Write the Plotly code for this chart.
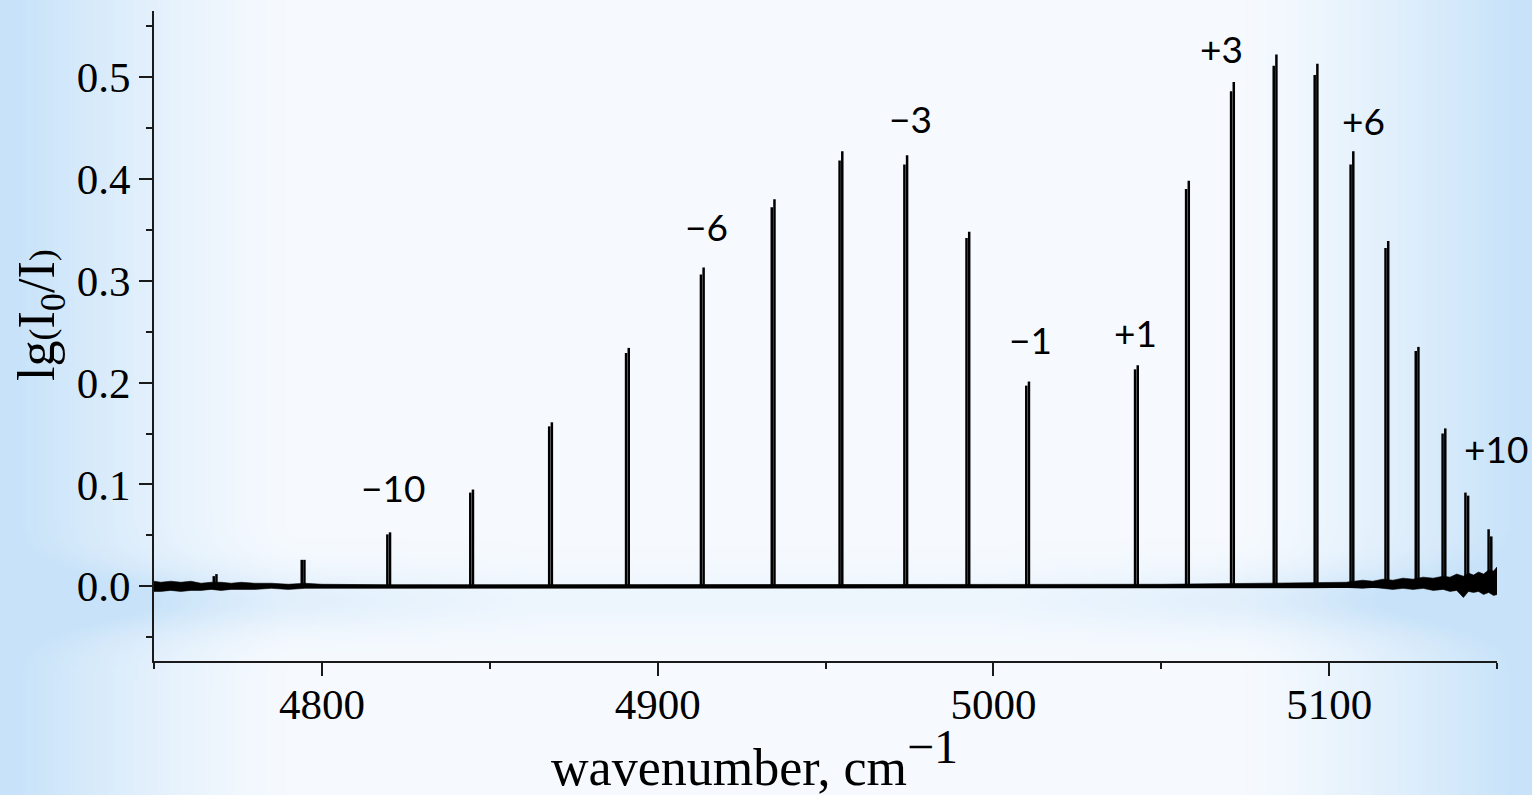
import base64, struct, zlib
import numpy as np
import plotly.graph_objects as go

# ---------------- data ----------------
# HBr 2-0 band, isotopic doublets: lower-wavenumber component (a) and higher (b)
wn_a = [4767.8, 4794.0, 4819.5, 4844.2, 4867.7, 4890.6, 4912.9, 4934.0, 4954.2, 4973.5,
        4992.0, 5009.8, 5042.2, 5057.4, 5070.8, 5083.5, 5095.7, 5106.4, 5116.8, 5125.8,
        5133.8, 5140.6, 5147.5]
wn_b = [4768.6, 4794.8, 4820.3, 4845.0, 4868.5, 4891.4, 4913.7, 4934.8, 4955.0, 4974.3,
        4992.8, 5010.6, 5043.0, 5058.2, 5071.6, 5084.3, 5096.5, 5107.2, 5117.6, 5126.6,
        5134.6, 5141.4, 5148.3]
h_a = [0.010, 0.026, 0.051, 0.092, 0.157, 0.229, 0.306, 0.372, 0.418, 0.414,
       0.342, 0.197, 0.213, 0.390, 0.486, 0.511, 0.502, 0.414, 0.332, 0.231,
       0.150, 0.092, 0.056]
h_b = [0.012, 0.026, 0.053, 0.095, 0.161, 0.234, 0.313, 0.380, 0.427, 0.423,
       0.348, 0.201, 0.217, 0.398, 0.495, 0.522, 0.513, 0.427, 0.339, 0.235,
       0.155, 0.089, 0.049]

# baseline noise envelope (upper / lower edge of the noisy baseline)
env_x = [4750, 4752, 4755, 4758, 4761, 4764, 4767, 4770, 4773, 4776, 4780, 4785, 4790,
         4795, 4800, 4820, 4850, 4900, 5000, 5050, 5080, 5095, 5105, 5110, 5113, 5116,
         5119, 5122, 5125, 5128, 5131, 5134, 5136, 5138, 5140, 5141.5, 5143, 5144.5,
         5146, 5147.5, 5149, 5150]
env_hi = [0.005, 0.004, 0.005, 0.004, 0.005, 0.003, 0.004, 0.004, 0.003, 0.004, 0.003,
          0.003, 0.002, 0.003, 0.002, 0.0015, 0.0015, 0.0015, 0.0015, 0.002, 0.003,
          0.004, 0.004, 0.006, 0.005, 0.007, 0.006, 0.008, 0.007, 0.009, 0.008, 0.010,
          0.009, 0.012, 0.010, 0.013, 0.011, 0.014, 0.012, 0.016, 0.015, 0.019]
env_lo = [-0.005, -0.005, -0.004, -0.005, -0.004, -0.004, -0.003, -0.004, -0.003, -0.003,
          -0.003, -0.002, -0.003, -0.002, -0.002, -0.0015, -0.0015, -0.0015, -0.0015,
          -0.0015, -0.0015, -0.0015, -0.001, -0.002, -0.001, -0.002, -0.003, -0.002,
          -0.003, -0.002, -0.004, -0.003, -0.005, -0.004, -0.011, -0.005, -0.006, -0.005,
          -0.008, -0.006, -0.009, -0.008]

label_text = ["−10", "−6", "−3", "−1", "+1", "+3", "+6", "+10"]
label_x = [4821.1, 4914.5, 4975.4, 5011.1, 5042.3, 5067.8, 5110.3, 5149.8]
label_y = [0.097, 0.353, 0.459, 0.242, 0.249, 0.528, 0.457, 0.135]

x_range = [4750, 5150]
y_range = [-0.0733, 0.5647]

# ---------------- background image (PowerPoint-like gradient) ----------------
W, H = 1532, 795
sw, sh = 383, 199
xs = (np.arange(sw) + 0.5) * W / sw
ys = (np.arange(sh) + 0.5) * H / sh
X, Y = np.meshgrid(xs, ys)
d = np.abs(X - W / 2) / (W / 2)
wx = np.clip((d - 0.62) / 0.38, 0, 1) ** 1.3
band = np.exp(-((Y - 600) / 32) ** 2) * (0.3 + 0.7 * np.clip((d - 0.3) / 0.5, 0, 1))
wt = np.clip(wx + 0.55 * band + 0.07, 0, 1)
white = np.array([250, 252, 255], float)
blue = np.array([200, 227, 249], float)
img = (white[None, None, :] * (1 - wt[..., None]) + blue[None, None, :] * wt[..., None]).astype(np.uint8)


def to_png(a):
    hh, ww, _ = a.shape
    raw = b"".join(b"\x00" + a[r].tobytes() for r in range(hh))

    def chunk(tag, data):
        c = struct.pack(">I", len(data)) + tag + data
        return c + struct.pack(">I", zlib.crc32(tag + data) & 0xFFFFFFFF)

    return (b"\x89PNG\r\n\x1a\n" + chunk(b"IHDR", struct.pack(">IIBBBBB", ww, hh, 8, 2, 0, 0, 0))
            + chunk(b"IDAT", zlib.compress(raw, 9)) + chunk(b"IEND", b""))


bg_uri = "data:image/png;base64," + base64.b64encode(to_png(img)).decode()

# ---------------- figure ----------------
ML, MR, MT, MB = 154, 35, 11, 134
PW, PH = W - ML - MR, H - MT - MB


def px_to_paper_x(p):
    return (p - ML) / PW


def px_to_paper_y(p):
    return (H - MB - p) / PH


fig = go.Figure()

# noise band of baseline
fig.add_trace(go.Scatter(x=env_x + env_x[::-1], y=env_hi + env_lo[::-1], fill="toself",
                         fillcolor="black", line=dict(color="black", width=0.6),
                         mode="lines", hoverinfo="skip", showlegend=False))
fig.add_trace(go.Scatter(x=x_range, y=[0, 0], mode="lines",
                         line=dict(color="black", width=3.2), showlegend=False))


def sticks(xv, hv):
    xx, yy = [], []
    for a, b in zip(xv, hv):
        xx += [a, a, None]
        yy += [0, b, None]
    return xx, yy


for xv, hv in ((wn_a, h_a), (wn_b, h_b)):
    sx, sy = sticks(xv, hv)
    fig.add_trace(go.Scatter(x=sx, y=sy, mode="lines", line=dict(color="black", width=2.5),
                             showlegend=False))

for t, xv, yv in zip(label_text, label_x, label_y):
    fig.add_annotation(x=xv, y=yv, text=t, showarrow=False,
                       font=dict(family="Lato", size=37, color="black"),
                       xanchor="center", yanchor="middle")

# axis titles as free text
fig.add_annotation(xref="paper", yref="paper", x=px_to_paper_x(754), y=px_to_paper_y(758),
                   text="wavenumber, cm<sup><span style='font-size:48px'>−1</span></sup>",
                   showarrow=False, xanchor="center", yanchor="middle",
                   font=dict(family="Liberation Serif", size=52, color="black"))
fig.add_annotation(xref="paper", yref="paper", x=px_to_paper_x(40), y=px_to_paper_y(315),
                   text="lg<span style='font-size:36px'>(</span>I<sub>0</sub>/I<span style='font-size:36px'>)</span>",
                   showarrow=False, xanchor="center", yanchor="middle", textangle=-90,
                   font=dict(family="Liberation Serif", size=52, color="black"))

axis_common = dict(showline=True, linecolor="#1a1a1a", linewidth=2, ticks="outside",
                   ticklen=13, tickwidth=2, tickcolor="#1a1a1a", showgrid=False,
                   zeroline=False, mirror=False,
                   tickfont=dict(family="Liberation Serif, Times New Roman, serif", size=43,
                                 color="black"))

fig.update_xaxes(range=x_range, tick0=4800, dtick=100, ticklabelstandoff=-9,
                 minor=dict(dtick=50, tick0=4750, ticklen=6, tickwidth=2, tickcolor="#1a1a1a",
                            ticks="outside", showgrid=False),
                 **axis_common)
fig.update_yaxes(range=y_range, tick0=0, dtick=0.1, tickformat=".1f",
                 minor=dict(dtick=0.05, tick0=0, ticklen=6, tickwidth=2, tickcolor="#1a1a1a",
                            ticks="outside", showgrid=False),
                 **axis_common)

fig.update_layout(
    width=W, height=H,
    margin=dict(l=ML, r=MR, t=MT, b=MB, autoexpand=False),
    paper_bgcolor="rgba(0,0,0,0)", plot_bgcolor="rgba(0,0,0,0)",
    showlegend=False,
    images=[dict(source=bg_uri, xref="paper", yref="paper",
                 x=-ML / PW, y=1 + MT / PH, sizex=W / PW, sizey=H / PH,
                 sizing="stretch", xanchor="left", yanchor="top", layer="below")],
)

fig.write_html("out.html")
